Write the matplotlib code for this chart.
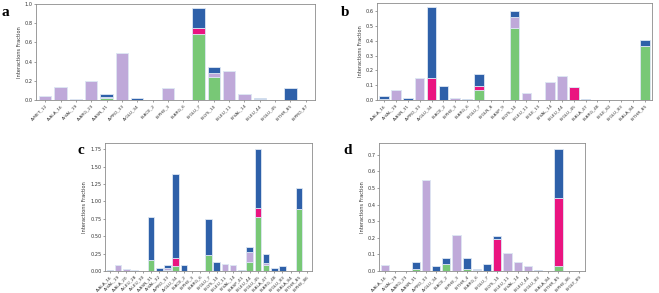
import matplotlib
matplotlib.use("Agg")
import matplotlib.pyplot as plt
import numpy as np

# ---------------- data ----------------
labels_a = ["A:MET_12", "A:ALA_16", "A:VAL_19", "A:ARG_23", "A:ASN_31", "A:PRO_33", "A:GLU_34",
            "B:ACE_2", "B:PHE_3", "B:ARG_6", "B:GLU_7", "B:LYS_10", "B:LEU_11", "B:VAL_14",
            "B:LEU_44", "B:GLU_45", "B:THR_85", "B:PRO_87"]
hb_a = [0, 0, 0, 0, 0.02, 0, 0, 0, 0, 0, 0.69, 0.24, 0, 0, 0, 0, 0, 0]
hp_a = [0.04, 0.14, 0.015, 0.20, 0.01, 0.49, 0, 0, 0.12, 0, 0, 0.04, 0.30, 0.06, 0.008, 0, 0, 0]
io_a = [0, 0, 0, 0, 0, 0, 0, 0, 0, 0, 0.06, 0, 0, 0, 0, 0, 0, 0]
wb_a = [0, 0, 0, 0, 0.035, 0, 0.022, 0.005, 0, 0, 0.21, 0.065, 0, 0, 0.008, 0, 0.12, 0]

labels_b = ["A:ALA_16", "A:VAL_19", "A:ASN_31", "A:PRO_33", "A:GLU_34", "B:ACE_2", "B:PHE_3",
            "B:ARG_6", "B:GLU_7", "B:GLN_8", "B:ASP_9", "B:LYS_10", "B:LEU_11", "B:ILE_13",
            "B:VAL_14", "B:LEU_44", "B:GLU_45", "B:ALA_47", "B:ARG_48", "B:ILE_82", "B:GLU_83",
            "B:ALA_84", "B:THR_85"]
hb_b = [0, 0, 0, 0, 0, 0, 0, 0, 0.07, 0, 0, 0.49, 0, 0, 0, 0, 0, 0, 0, 0, 0, 0, 0.365]
hp_b = [0.01, 0.065, 0, 0.15, 0, 0, 0.012, 0, 0, 0, 0, 0.07, 0.045, 0, 0.12, 0.16, 0, 0, 0, 0, 0, 0, 0]
io_b = [0, 0, 0, 0, 0.15, 0, 0, 0, 0.025, 0, 0, 0, 0, 0, 0, 0, 0.09, 0, 0, 0, 0, 0, 0]
wb_b = [0.015, 0, 0.015, 0, 0.48, 0.095, 0, 0.005, 0.08, 0, 0, 0.04, 0, 0, 0, 0, 0, 0.005, 0.003, 0, 0.003, 0, 0.04]

labels_c = ["A:ALA_16", "A:VAL_19", "A:ALA_20", "A:LEU_28", "A:LEU_30", "A:ASN_31", "A:VAL_32",
            "A:PRO_33", "A:GLU_34", "B:ACE_2", "B:PHE_3", "B:ARG_6", "B:GLU_7", "B:LYS_10",
            "B:LEU_11", "B:VAL_14", "B:ASP_41", "B:LEU_44", "B:GLU_45", "B:ALA_47", "B:ARG_48",
            "B:GLU_83", "B:ALA_84", "B:THR_85", "B:PHE_86"]
hb_c = [0, 0, 0, 0, 0, 0.16, 0, 0.015, 0.07, 0, 0, 0, 0.23, 0, 0, 0, 0, 0.13, 0.78, 0.08, 0, 0, 0, 0.89, 0]
hp_c = [0, 0.08, 0.025, 0.012, 0, 0, 0, 0.035, 0, 0, 0, 0, 0, 0, 0.10, 0.08, 0, 0.14, 0, 0.03, 0, 0, 0, 0, 0]
io_c = [0, 0, 0, 0, 0, 0, 0, 0, 0.11, 0, 0, 0, 0, 0, 0, 0, 0, 0, 0.13, 0, 0, 0, 0, 0, 0]
wb_c = [0.01, 0, 0, 0, 0, 0.62, 0.05, 0.04, 1.22, 0.09, 0, 0.005, 0.52, 0.13, 0, 0, 0.01, 0.08, 0.84, 0.14, 0.04, 0.07, 0, 0.30, 0]

labels_d = ["A:ALA_16", "A:VAL_19", "A:ARG_23", "A:ASN_31", "A:PRO_33", "A:GLU_34", "B:ACE_2",
            "B:PHE_3", "B:THR_4", "B:ARG_6", "B:GLU_7", "B:LYS_10", "B:LEU_11", "B:VAL_14",
            "B:LEU_44", "B:GLU_83", "B:ALA_84", "B:THR_85", "B:PHE_86", "B:GLY_89"]
hb_d = [0, 0, 0, 0.012, 0, 0, 0.04, 0, 0.012, 0, 0, 0, 0, 0, 0, 0, 0, 0.028, 0, 0]
hp_d = [0.035, 0.002, 0, 0, 0.545, 0, 0, 0.215, 0, 0, 0, 0, 0.108, 0.055, 0.033, 0, 0, 0, 0, 0]
io_d = [0, 0, 0, 0, 0, 0, 0, 0, 0, 0.005, 0.003, 0.195, 0, 0, 0, 0, 0, 0.41, 0, 0]
wb_d = [0, 0, 0.003, 0.045, 0, 0.032, 0.037, 0, 0.066, 0.01, 0.037, 0.015, 0, 0, 0, 0.006, 0, 0.297, 0, 0.003]

# ---------------- style ----------------
C_HB = "#78c876"
C_HP = "#bfa9d9"
C_IO = "#ea1480"
C_WB = "#2e60a9"
EDGE = "#dde6f3"

W, H = 659, 293
fig = plt.figure(figsize=(W / 100, H / 100), dpi=100)


def px_rect(l, t, r, b):
    return [l / W, 1 - b / H, (r - l) / W, (b - t) / H]


def panel(rect, labels, hb, hp, io, wb, letter, letter_xy, yticks, fmt):
    ax = fig.add_axes(px_rect(*rect))
    x = np.arange(len(labels))
    hb = np.array(hb); hp = np.array(hp); io = np.array(io); wb = np.array(wb)
    kw = dict(width=0.8, edgecolor=EDGE, linewidth=0.6)
    ax.bar(x, hb, color=C_HB, **kw)
    ax.bar(x, hp, bottom=hb, color=C_HP, **kw)
    ax.bar(x, io, bottom=hb + hp, color=C_IO, **kw)
    ax.bar(x, wb, bottom=hb + hp + io, color=C_WB, **kw)
    ax.set_xlim(-0.6, len(labels) - 0.4)
    ax.set_xticks(x)
    ax.set_xticklabels(labels, rotation=45, ha="right", rotation_mode="anchor",
                       fontsize=3.2, color="#333333")
    ax.set_yticks(yticks)
    ax.set_yticklabels([fmt.format(v) for v in yticks], fontsize=3.6, color="#333333")
    ax.set_ylabel("Interactions Fraction", fontsize=3.6, color="#333333", labelpad=2)
    ax.tick_params(length=1.5, width=0.4, pad=1, color="#555555")
    for s in ax.spines.values():
        s.set_color("#8c8c8c")
        s.set_linewidth(0.6)
    fig.text(letter_xy[0] / W, 1 - letter_xy[1] / H, letter, fontsize=11, fontweight="bold",
             family=["Liberation Serif", "DejaVu Serif"], ha="left", va="center")
    return ax


ax_a = panel((36, 4, 315, 100), labels_a, hb_a, hp_a, io_a, wb_a, "a", (2, 13),
             np.arange(0, 1.01, 0.2), "{:.1f}")
ax_a.set_ylim(0, 1.0)
ax_b = panel((377, 3, 652, 100), labels_b, hb_b, hp_b, io_b, wb_b, "b", (341, 13),
             np.arange(0, 0.61, 0.1), "{:.1f}")
ax_b.set_ylim(0, 0.657)
ax_c = panel((105, 143, 312, 271), labels_c, hb_c, hp_c, io_c, wb_c, "c", (78, 150),
             np.arange(0, 1.76, 0.25), "{:.2f}")
ax_c.set_ylim(0, 1.84)
ax_d = panel((379, 143, 585, 271), labels_d, hb_d, hp_d, io_d, wb_d, "d", (343, 150),
             np.arange(0, 0.71, 0.1), "{:.1f}")
ax_d.set_ylim(0, 0.77)

fig.savefig("out.png", dpi=100, facecolor="white")
